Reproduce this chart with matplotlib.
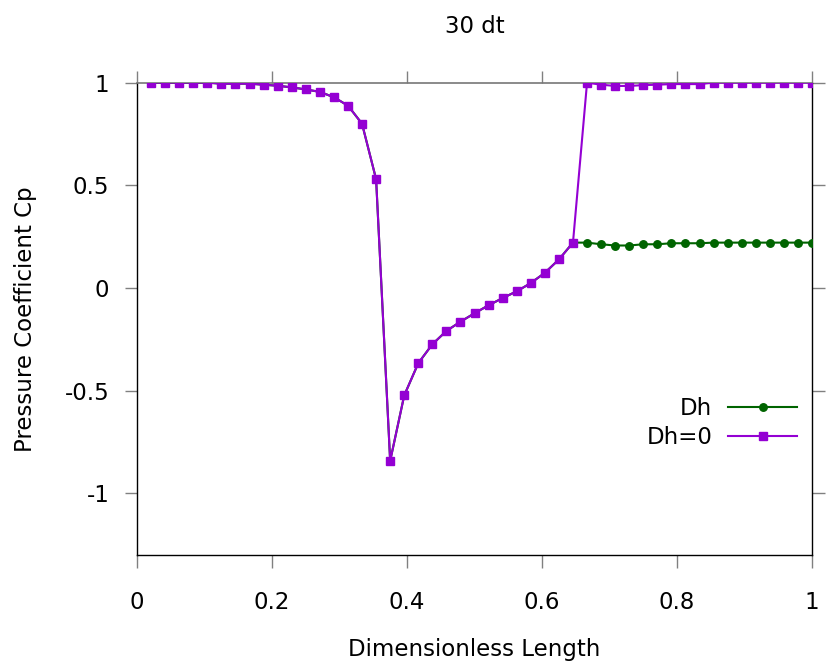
import numpy as np
import matplotlib
matplotlib.use("Agg")
import matplotlib.pyplot as plt

# 48 nodes along the surface, evenly spaced in (0, 1]
n_nodes = 48
length = np.arange(1, n_nodes + 1) / n_nodes

cp_dh0 = [1.0, 1.0, 1.0, 1.0, 1.0, 0.995, 0.995, 0.995, 0.99, 0.985,
          0.977, 0.967, 0.955, 0.929, 0.888, 0.80, 0.53, -0.842, -0.523, -0.366,
          -0.274, -0.209, -0.164, -0.123, -0.084, -0.049, -0.016, 0.024, 0.074, 0.139,
          0.221, 1.0, 0.990, 0.984, 0.984, 0.988, 0.990, 0.993, 0.993, 0.993,
          1.0, 1.0, 1.0, 1.0, 1.0, 1.0, 1.0, 1.0]

cp_dh = [1.0, 1.0, 1.0, 1.0, 1.0, 0.995, 0.995, 0.995, 0.99, 0.985,
         0.977, 0.967, 0.955, 0.929, 0.888, 0.80, 0.53, -0.842, -0.523, -0.366,
         -0.274, -0.209, -0.164, -0.123, -0.084, -0.049, -0.016, 0.024, 0.074, 0.139,
         0.221, 0.221, 0.213, 0.207, 0.207, 0.213, 0.213, 0.218, 0.218, 0.218,
         0.221, 0.221, 0.221, 0.221, 0.221, 0.221, 0.221, 0.221]

xticks = [0, 0.2, 0.4, 0.6, 0.8, 1]
xticklabels = ["0", "0.2", "0.4", "0.6", "0.8", "1"]
yticks = [-1, -0.5, 0, 0.5, 1]
yticklabels = ["-1", "-0.5", "0", "0.5", "1"]

plt.rcParams["font.family"] = ["DejaVu Sans"]
FS = 16.5
TICK_GREY = "#808080"

fig = plt.figure(figsize=(8.26, 6.66), dpi=100)
ax = fig.add_axes([0.1659, 0.1667, 0.8172, 0.7092])

ax.plot(length, cp_dh, color="#006400", lw=1.5, marker="o", ms=5.4,
        label="Dh", zorder=3)
ax.plot(length, cp_dh0, color="#9400D3", lw=1.5, marker="s", ms=5.8,
        label="Dh=0", zorder=4)

ax.set_xlim(0, 1)
ax.set_ylim(-1.3, 1)
ax.set_xticks(xticks)
ax.set_xticklabels(xticklabels)
ax.set_yticks(yticks)
ax.set_yticklabels(yticklabels)

ax.tick_params(axis="x", direction="out", length=9, width=1, color=TICK_GREY,
               top=True, labelsize=FS, pad=17)
ax.tick_params(axis="y", direction="out", length=9, width=1, color=TICK_GREY,
               right=True, labelsize=FS, pad=11)

# end ticks sit on the border, keep them black like the frame
for t in (ax.xaxis.get_major_ticks()[0], ax.xaxis.get_major_ticks()[-1]):
    t.tick1line.set_color("black")
    t.tick2line.set_color("black")

for side in ("left", "right", "bottom"):
    ax.spines[side].set_linewidth(1.0)
    ax.spines[side].set_color("black")
ax.spines["top"].set_linewidth(1.2)
ax.spines["top"].set_color("#777777")

ax.set_xlabel("Dimensionless Length", fontsize=FS, labelpad=17)
ax.set_ylabel("Pressure Coefficient Cp", fontsize=FS, labelpad=19.5)
ax.set_title("30 dt", fontsize=FS, y=1.105, pad=0)

ax.legend(loc="center right", bbox_to_anchor=(0.978, 0.2795), frameon=False,
          markerfirst=False, fontsize=FS, handlelength=3.0, handletextpad=0.7,
          labelspacing=0.3, borderpad=0, borderaxespad=0, numpoints=1)

fig.savefig("out.png", dpi=100)
